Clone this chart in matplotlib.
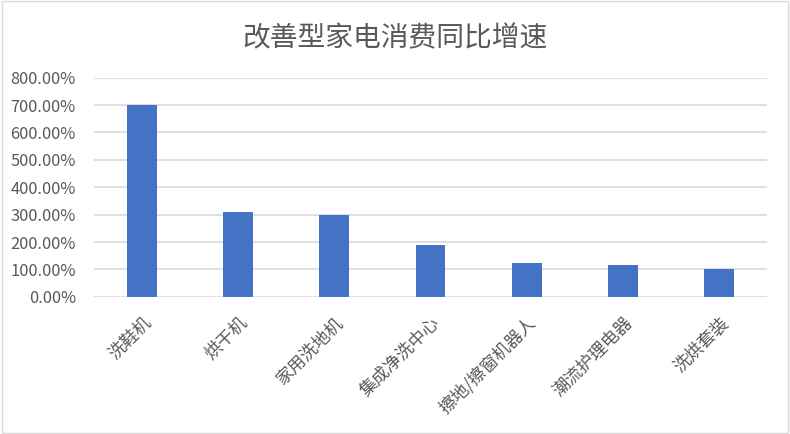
import matplotlib
matplotlib.use('Agg')
import matplotlib.pyplot as plt
from matplotlib.patches import Rectangle
from matplotlib.ticker import FuncFormatter

plt.rcParams['font.family'] = ['Noto Sans CJK SC', 'DejaVu Sans']

categories = ['洗鞋机', '烘干机', '家用洗地机', '集成净洗中心', '擦地/擦窗机器人', '潮流护理电器', '洗烘套装']
growth_pct = [700, 310, 300, 189, 123, 116, 101]
y_ticks = [0, 100, 200, 300, 400, 500, 600, 700, 800]

fig = plt.figure(figsize=(7.9, 4.34), dpi=100)
ax = fig.add_axes([0.119, 0.316, 0.852, 0.505])

x = range(len(categories))
ax.bar(x, growth_pct, width=0.31, color='#4472C4', zorder=3)

ax.set_xlim(-0.5, len(categories) - 0.5)
ax.set_ylim(0, 800)
ax.set_yticks(y_ticks)
ax.yaxis.set_major_formatter(FuncFormatter(lambda v, p: f'{v:.2f}%'))
ax.grid(axis='y', color='#D9D9D9', linewidth=1.2, zorder=0)
for s in ax.spines.values():
    s.set_visible(False)
ax.tick_params(axis='both', length=0, colors='#595959')
ax.tick_params(axis='y', pad=13, labelsize=11.8)

ax.set_xticks(list(x))
ax.set_xticklabels(categories, rotation=45, ha='right', rotation_mode='anchor')
ax.tick_params(axis='x', pad=12, labelsize=12.5)

fig.text(0.5, 0.912, '改善型家电消费同比增速', ha='center', va='center',
         fontsize=20, color='#595959')

fig.patches.append(Rectangle((0.002, 0.003), 0.996, 0.994, transform=fig.transFigure,
                             fill=False, edgecolor='#D9D9D9', linewidth=1))

fig.savefig('out.png', dpi=100)
